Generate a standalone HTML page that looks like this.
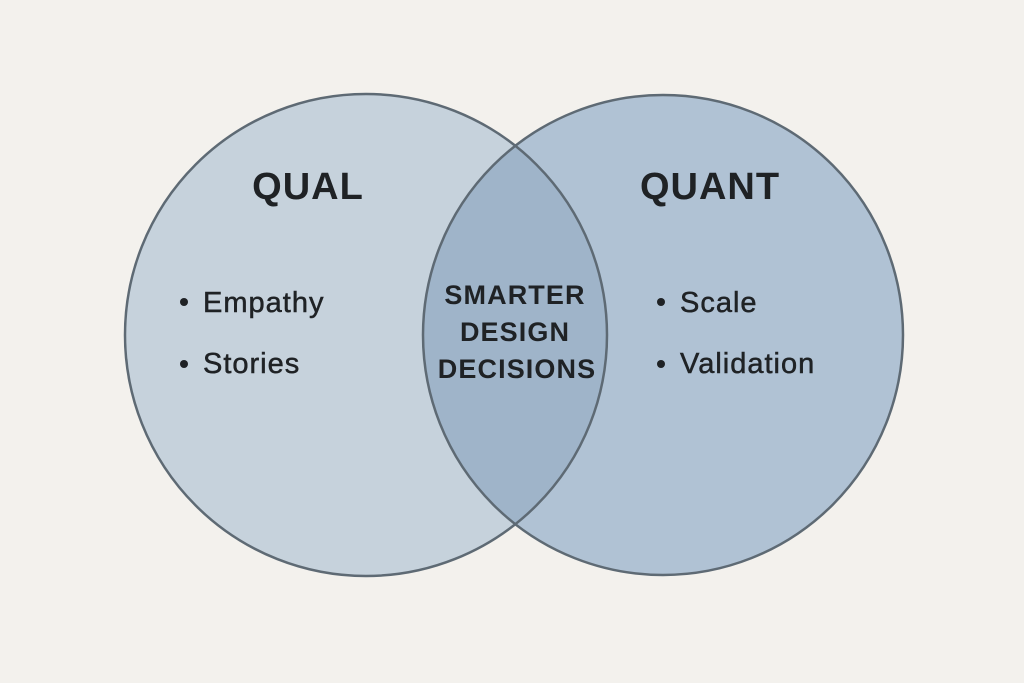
<!DOCTYPE html>
<html><head><meta charset="utf-8"><style>
html,body{margin:0;padding:0;background:#f3f1ed;}
svg{display:block}
text{font-family:"Liberation Sans","DejaVu Sans",sans-serif;fill:#1f2225;}
</style></head><body>
<svg width="1024" height="683" viewBox="0 0 1024 683" xmlns="http://www.w3.org/2000/svg">
<rect width="1024" height="683" fill="#f3f1ed"/>
<defs>
<clipPath id="lc"><circle cx="366" cy="335" r="241"/></clipPath>
</defs>
<circle cx="366" cy="335" r="241" fill="#c6d2dc"/>
<circle cx="663" cy="335" r="240" fill="#b0c2d4"/>
<circle cx="663" cy="335" r="240" fill="#9fb4c9" clip-path="url(#lc)"/>
<circle cx="366" cy="335" r="241" fill="none" stroke="#5e6a74" stroke-width="2.5"/>
<circle cx="663" cy="335" r="240" fill="none" stroke="#5e6a74" stroke-width="2.5"/>
<text x="308" y="199" font-size="38" font-weight="bold" text-anchor="middle" letter-spacing="1">QUAL</text>
<text x="710" y="199" font-size="38" font-weight="bold" text-anchor="middle" letter-spacing="1">QUANT</text>
<g fill="#1f2225">
<circle cx="184" cy="302" r="4"/>
<circle cx="184" cy="364" r="4"/>
<circle cx="661" cy="302" r="4"/>
<circle cx="661" cy="364" r="4"/>
</g>
<g font-size="29" letter-spacing="1" stroke="#1f2225" stroke-width="0.5">
<text x="203" y="312">Empathy</text>
<text x="203" y="373">Stories</text>
<text x="680" y="312">Scale</text>
<text x="680" y="373">Validation</text>
</g>
<g font-size="27" font-weight="bold" text-anchor="middle" letter-spacing="1.1">
<text x="515" y="304">SMARTER</text>
<text x="515" y="341">DESIGN</text>
<text x="517" y="378">DECISIONS</text>
</g>
</svg>
</body></html>
